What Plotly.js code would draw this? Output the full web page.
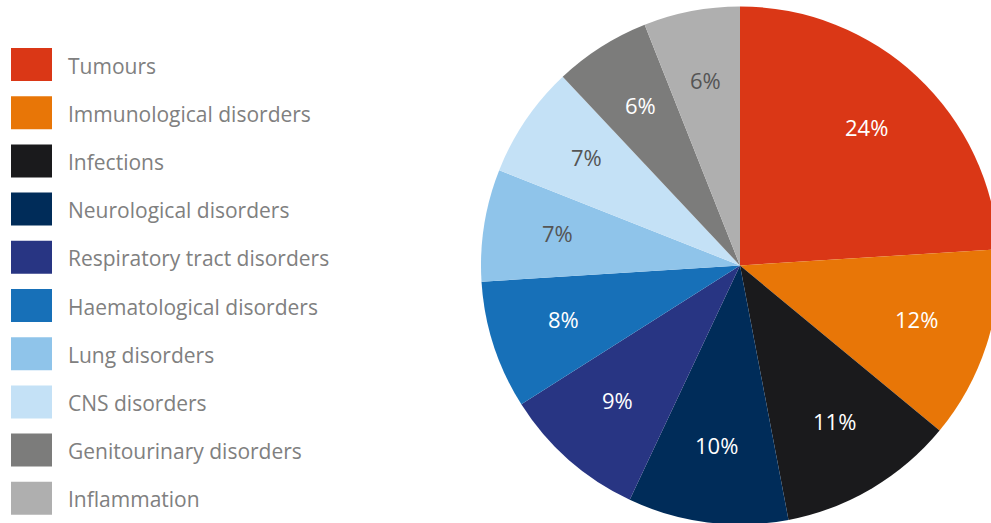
<!DOCTYPE html>
<html>
<head>
<meta charset="utf-8">
<script src="https://cdn.plot.ly/plotly-3.0.1.min.js"></script>
<style>
  html, body { margin: 0; padding: 0; overflow: hidden; background: #ffffff; }
  #chart { width: 1000px; height: 530px; }
</style>
</head>
<body>
<div id="chart"></div>
<script>
// ---- data ----
const categories = [
  "Tumours",
  "Immunological disorders",
  "Infections",
  "Neurological disorders",
  "Respiratory tract disorders",
  "Haematological disorders",
  "Lung disorders",
  "CNS disorders",
  "Genitourinary disorders",
  "Inflammation"
];
const shares = [24, 12, 11, 10, 9, 8, 7, 7, 6, 6];
const colors = [
  "#DA3716", "#E87607", "#1A1A1C", "#002C59", "#283583",
  "#1770B8", "#8FC4EA", "#C4E1F6", "#7C7C7B", "#AFAFAF"
];

// ---- layout geometry (pixels of the 1000x530 figure) ----
const W = 1000, H = 530;
const cx = 740, cy = 265.5, R = 259;
const labelFrac = 0.715;

function luminance(hex) {
  const r = parseInt(hex.slice(1, 3), 16), g = parseInt(hex.slice(3, 5), 16), b = parseInt(hex.slice(5, 7), 16);
  return (0.299 * r + 0.587 * g + 0.114 * b) / 255;
}

const total = shares.reduce((a, b) => a + b, 0);
const annotations = [];
let cum = 0;
shares.forEach((v, i) => {
  const mid = (cum + v / 2) / total * 2 * Math.PI;
  cum += v;
  const px = cx + labelFrac * R * Math.sin(mid);
  const py = cy - labelFrac * R * Math.cos(mid);
  annotations.push({
    xref: "paper", yref: "paper",
    x: px / W, y: 1 - py / H,
    xanchor: "center", yanchor: "middle",
    yshift: 4,
    text: Math.round(v / total * 100) + "%",
    showarrow: false,
    font: { family: "Open Sans", size: 22, color: luminance(colors[i]) > 0.6 ? "#555555" : "#ffffff" }
  });
});

// custom legend with large swatches
const shapes = [];
const rowTop = 48, rowStep = 48.2, swW = 41, swH = 33, swX = 11, textX = 66;
categories.forEach((name, i) => {
  const top = rowTop + i * rowStep;
  shapes.push({
    type: "rect", xref: "paper", yref: "paper",
    x0: swX / W, x1: (swX + swW) / W,
    y0: 1 - (top + swH) / H, y1: 1 - top / H,
    fillcolor: colors[i], line: { width: 0 }
  });
  annotations.push({
    xref: "paper", yref: "paper",
    x: textX / W, y: 1 - (top + swH / 2 + 1) / H,
    xanchor: "left", yanchor: "middle",
    text: name, showarrow: false,
    font: { family: "Open Sans", size: 21, color: "#808080" }
  });
});

const trace = {
  type: "pie",
  labels: categories,
  values: shares,
  sort: false,
  direction: "clockwise",
  rotation: 0,
  marker: { colors: colors, line: { width: 0 } },
  textinfo: "none",
  hoverinfo: "none",
  showlegend: false,
  domain: { x: [(cx - R) / W, (cx + R) / W], y: [1 - (cy + R) / H, 1 - (cy - R) / H] }
};

const layout = {
  width: W, height: H,
  margin: { l: 0, r: 0, t: 0, b: 0 },
  paper_bgcolor: "#ffffff",
  showlegend: false,
  shapes: shapes,
  annotations: annotations,
  font: { family: "Open Sans" }
};

Plotly.newPlot("chart", [trace], layout, { displayModeBar: false, staticPlot: true });
</script>
</body>
</html>
